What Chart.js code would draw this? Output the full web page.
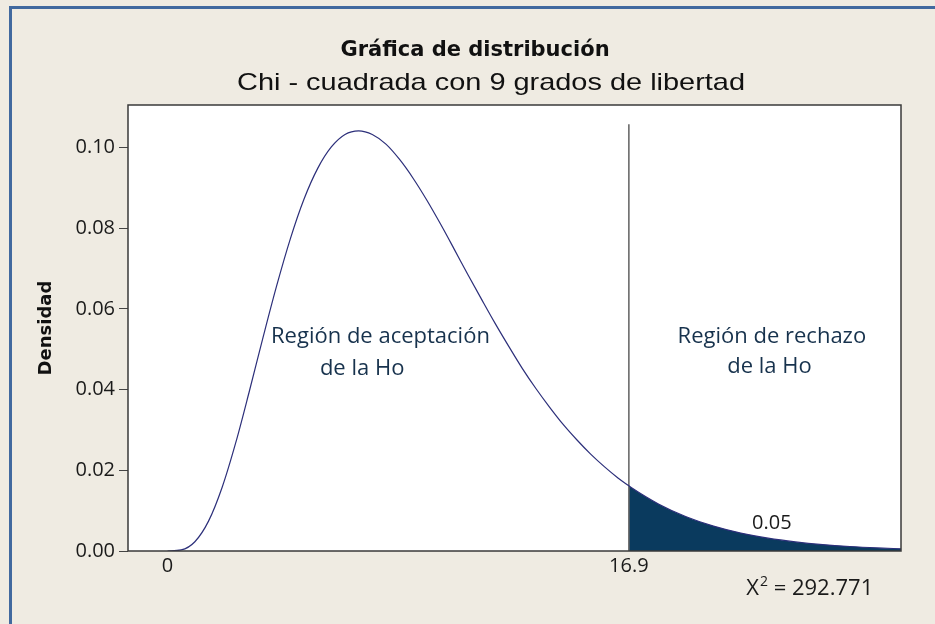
<!DOCTYPE html>
<html>
<head>
<meta charset="utf-8">
<script src="https://cdn.jsdelivr.net/npm/chart.js@4.4.1/dist/chart.umd.min.js"></script>
<style>
html, body { margin: 0; padding: 0; background: #efebe2; }
#wrap { width: 935px; height: 624px; position: relative; }
</style>
</head>
<body>
<div id="wrap"><canvas id="chart"></canvas></div>
<script>
// chi-square density (9 df)
var chiX = [0, 0.5, 1, 1.5, 2, 2.5, 3, 3.5, 4, 4.5, 5, 5.5, 6, 6.5, 7, 7.5, 8, 8.5, 9, 9.5, 10, 10.5, 11, 11.5, 12, 12.5, 13, 13.5, 14, 14.5, 15, 15.5, 16, 16.5, 16.9, 17, 18, 19, 20, 21, 22, 23, 24, 25, 26, 26.87];
var chiDensity = [0, 0.00026, 0.0023, 0.0074, 0.0158, 0.0269, 0.0397, 0.0530, 0.0658, 0.0774, 0.0872, 0.0948, 0.1001, 0.1032, 0.1041, 0.1032, 0.1008, 0.0970, 0.0923, 0.0869, 0.0810, 0.0748, 0.0685, 0.0624, 0.0564, 0.0507, 0.0452, 0.0402, 0.0356, 0.0313, 0.0275, 0.0240, 0.0209, 0.0181, 0.01615, 0.01566, 0.0116, 0.0085, 0.00617, 0.00444, 0.00317, 0.00225, 0.00158, 0.00111, 0.00077, 0.00055];
var criticalValue = 16.9;
var criticalLineTop = 0.1057;
var tailArea = '0.05';
var chiStatistic = '292.771';

var xTickValues = [0, 16.9];
var xTickLabels = ['0', '16.9'];
var yTickValues = [0, 0.02, 0.04, 0.06, 0.08, 0.10];

var titleText = 'Gráfica de distribución';
var subtitleText = 'Chi - cuadrada con 9 grados de libertad';
var yTitle = 'Densidad';
var acceptLines = ['Región de aceptación', 'de la Ho'];
var rejectLines = ['Región de rechazo', 'de la Ho'];

function toPoints(xs, ys) {
    return xs.map((x, i) => ({ x: x, y: ys[i] }));
}

var curvePoints = toPoints(chiX, chiDensity);
var tailPoints = curvePoints.filter(p => p.x >= criticalValue);

var backgroundPlugin = {
    id: 'frame',
    beforeDraw(chart) {
        const ctx = chart.ctx;
        const a = chart.chartArea;
        ctx.save();
        ctx.fillStyle = '#efebe2';
        ctx.fillRect(0, 0, chart.width, chart.height);
        // blue frame of the original window
        ctx.fillStyle = '#41699f';
        ctx.fillRect(9, 6, 3, chart.height);
        ctx.fillRect(9, 6, chart.width, 3);
        ctx.fillStyle = '#ffffff';
        ctx.fillRect(a.left, a.top, a.right - a.left, a.bottom - a.top);
        ctx.restore();
    },
    afterDraw(chart) {
        const ctx = chart.ctx;
        const a = chart.chartArea;
        const xs = chart.scales.x;
        const ys = chart.scales.y;
        ctx.save();
        ctx.strokeStyle = '#3a3a3a';
        ctx.lineWidth = 1.5;
        ctx.strokeRect(a.left, a.top, a.right - a.left, a.bottom - a.top);

        // titles
        ctx.fillStyle = '#111';
        ctx.textAlign = 'center';
        ctx.textBaseline = 'alphabetic';
        ctx.font = 'bold 21px "DejaVu Sans"';
        ctx.fillText(titleText, 475, 56);
        ctx.font = '24px "Liberation Sans"';
        const w = ctx.measureText(subtitleText).width;
        ctx.save();
        ctx.translate(491, 90);
        ctx.scale(508 / w, 1);
        ctx.fillText(subtitleText, 0, 0);
        ctx.restore();

        // region labels
        ctx.fillStyle = '#17324d';
        ctx.font = '22px "Open Sans"';
        ctx.textAlign = 'left';
        ctx.fillText(acceptLines[0], xs.getPixelForValue(3.79), ys.getPixelForValue(0.0515));
        ctx.fillText(acceptLines[1], xs.getPixelForValue(5.58), ys.getPixelForValue(0.0436));
        ctx.textAlign = 'center';
        ctx.fillText(rejectLines[0], xs.getPixelForValue(22.14), ys.getPixelForValue(0.0515));
        ctx.fillText(rejectLines[1], xs.getPixelForValue(22.05), ys.getPixelForValue(0.0441));

        // tail probability
        ctx.fillStyle = '#1a1a1a';
        ctx.font = '20px "Open Sans"';
        ctx.fillText(tailArea, xs.getPixelForValue(22.14), ys.getPixelForValue(0.0055));

        // statistic below the axis
        ctx.textAlign = 'left';
        let px = xs.getPixelForValue(21.2);
        const py = ys.getPixelForValue(-0.0109);
        ctx.font = '22px "Open Sans"';
        ctx.fillText('X', px, py);
        px += ctx.measureText('X').width + 1;
        ctx.font = '14px "Open Sans"';
        ctx.fillText('2', px, py - 9);
        px += ctx.measureText('2').width;
        ctx.font = '22px "Open Sans"';
        ctx.fillText(' = ' + chiStatistic, px, py);
        ctx.restore();
    }
};

var ctx = document.getElementById('chart').getContext('2d');
var chart = new Chart(ctx, {
    type: 'line',
    data: {
        datasets: [
            {
                data: curvePoints,
                borderColor: '#2c2f7a',
                borderWidth: 1.2,
                pointRadius: 0,
                cubicInterpolationMode: 'monotone',
                fill: false
            },
            {
                data: [{ x: criticalValue, y: 0 }, { x: criticalValue, y: criticalLineTop }],
                borderColor: '#6a6a6a',
                borderWidth: 1.6,
                pointRadius: 0,
                fill: false
            },
            {
                data: tailPoints,
                borderWidth: 0,
                borderColor: '#0a3a5e',
                backgroundColor: '#0a3a5e',
                pointRadius: 0,
                cubicInterpolationMode: 'monotone',
                fill: 'origin'
            }
        ]
    },
    options: {
        responsive: true,
        maintainAspectRatio: false,
        animation: false,
        layout: { padding: { top: 105, right: 34, left: 0, bottom: 0 } },
        plugins: {
            legend: { display: false },
            tooltip: { enabled: false }
        },
        scales: {
            x: {
                type: 'linear',
                min: -1.45,
                max: 26.87,
                afterBuildTicks: function(scale) {
                    scale.ticks = xTickValues.map(v => ({ value: v }));
                },
                afterFit: function(scale) { scale.height = 73; },
                grid: { display: false, drawTicks: false },
                border: { display: false },
                ticks: {
                    autoSkip: false,
                    maxRotation: 0,
                    padding: 3,
                    color: '#1a1a1a',
                    font: { family: '"Open Sans"', size: 20 },
                    callback: function(value, index) { return xTickLabels[index]; }
                }
            },
            y: {
                type: 'linear',
                min: 0,
                max: 0.1105,
                afterBuildTicks: function(scale) {
                    scale.ticks = yTickValues.map(v => ({ value: v }));
                },
                afterFit: function(scale) { scale.width = 128; },
                grid: { drawOnChartArea: false, drawTicks: true, tickLength: 9, color: '#444', lineWidth: 1 },
                border: { display: false },
                ticks: {
                    padding: 4,
                    color: '#1a1a1a',
                    font: { family: '"Open Sans"', size: 20 },
                    callback: function(value) { return value.toFixed(2); }
                },
                title: {
                    display: true,
                    text: yTitle,
                    color: '#111',
                    font: { family: '"DejaVu Sans"', size: 18, weight: 'bold' },
                    padding: { top: 36, bottom: 0 }
                }
            }
        }
    },
    plugins: [backgroundPlugin]
});
</script>
</body>
</html>
